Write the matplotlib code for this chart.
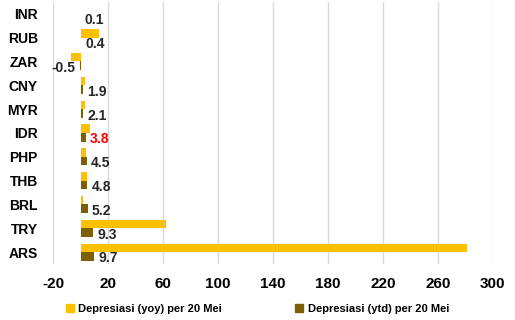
import matplotlib
matplotlib.use("Agg")
import matplotlib.pyplot as plt
from matplotlib.patches import Patch
import numpy as np

plt.rcParams['font.family'] = ['Liberation Sans', 'DejaVu Sans']

categories = ["INR", "RUB", "ZAR", "CNY", "MYR", "IDR", "PHP", "THB", "BRL", "TRY", "ARS"]
yoy = [0.5, 13.2, -6.7, 3.0, 3.0, 6.9, 4.0, 4.7, 1.6, 62.2, 280.9]
ytd = [0.1, 0.4, -0.5, 1.9, 2.1, 3.8, 4.5, 4.8, 5.2, 9.3, 9.7]
xticks = [-20, 20, 60, 100, 140, 180, 220, 260, 300]
label_yoy = "Depresiasi (yoy) per 20 Mei"
label_ytd = "Depresiasi (ytd) per 20 Mei"

c_yoy = "#FFC000"
c_ytd = "#7F6000"

fig = plt.figure(figsize=(5.15, 3.2), dpi=100)
ax = fig.add_axes([0.103, 0.175, 0.854, 0.819])

y = np.arange(len(categories))
h = 0.36
ax.barh(y - h / 2, yoy, height=h, color=c_yoy, zorder=2)
ax.barh(y + h / 2, ytd, height=h, color=c_ytd, zorder=2)

for i, v in enumerate(ytd):
    col = "#FF0000" if categories[i] == "IDR" else "#262626"
    if v >= 0:
        ax.annotate(f"{v:.1f}", (v, y[i] + h / 2), xytext=(3, -1.5), textcoords="offset points",
                    ha="left", va="center", fontsize=10, fontweight="bold", color=col)
    else:
        ax.annotate(f"{v:.1f}", (v, y[i] + h / 2), xytext=(-3, -1.5), textcoords="offset points",
                    ha="right", va="center", fontsize=10, fontweight="bold", color=col)

ax.set_xlim(-20, 300)
ax.set_xticks(xticks)
ax.set_xticklabels([str(t) for t in xticks], fontsize=11, fontweight="bold")
ax.set_yticks(y)
ax.set_yticklabels(categories, fontsize=10, fontweight="bold")
ax.set_ylim(len(categories) - 0.5, -0.5)
ax.grid(axis="x", color="#D9D9D9", linewidth=1, zorder=0)
ax.tick_params(axis="both", length=0)
ax.tick_params(axis="x", pad=9)
ax.tick_params(axis="y", pad=11)
for s in ax.spines.values():
    s.set_visible(False)

handles = [Patch(color=c_yoy, label=label_yoy), Patch(color=c_ytd, label=label_ytd)]
fig.legend(handles=handles, loc="center", bbox_to_anchor=(0.50, 0.035), ncol=2,
           frameon=False, prop={"size": 8, "weight": "bold"},
           handlelength=0.7, handleheight=0.7, handletextpad=0.4, columnspacing=6.6)

fig.savefig("out.png", dpi=100)
